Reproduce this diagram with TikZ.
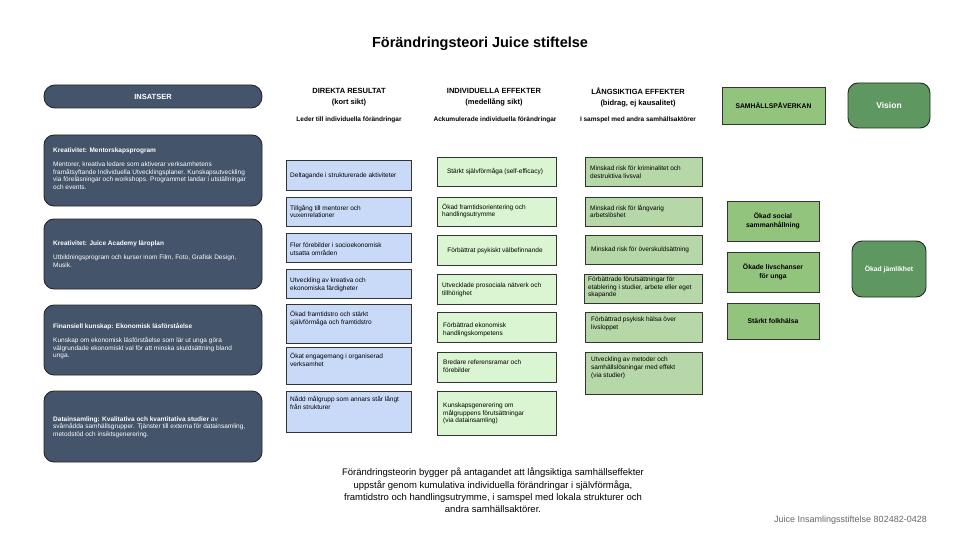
\documentclass[tikz,border=0pt]{standalone}
\usepackage{fontspec}
\setmainfont{Liberation Sans}
\definecolor{slate}{HTML}{44546A}
\definecolor{bluebox}{HTML}{C9DAF8}
\definecolor{lgreen}{HTML}{D9F5D1}
\definecolor{mgreen}{HTML}{B6D7A8}
\definecolor{sgreen}{HTML}{93C47D}
\definecolor{dgreen}{HTML}{5F9760}
\definecolor{edge}{HTML}{333333}
\definecolor{footgray}{HTML}{666666}
\tikzset{
  base/.style={draw=edge, line width=0.9pt, inner sep=0pt},
  slatebox/.style={base, draw=black!85, fill=slate, rounded corners=10pt},
  bluecell/.style={base, fill=bluebox},
  lgcell/.style={base, fill=lgreen},
  mgcell/.style={base, fill=mgreen},
  sgcell/.style={base, fill=sgreen},
  dgcell/.style={base, draw=black!85, fill=dgreen, rounded corners=10pt},
  txt/.style={font=\fontsize{6.5}{7.8}\selectfont, align=left, anchor=west, inner sep=0pt},
  ctxt/.style={font=\fontsize{6.5}{7.8}\selectfont, align=center, anchor=center, inner sep=0pt},
  ltxt/.style={font=\fontsize{6.5}{7.6}\selectfont, align=left, anchor=west, inner sep=0pt, text=white},
  btxt/.style={font=\fontsize{6.8}{8.4}\selectfont\bfseries, align=center, anchor=center, inner sep=0pt},
  head/.style={font=\fontsize{7.5}{11}\selectfont\bfseries, align=center, inner sep=0pt},
  subhead/.style={font=\fontsize{6.5}{8}\selectfont\bfseries, align=center, inner sep=0pt},
}
% #1 name, #2 box style, #3 x1, #4 y1, #5 x2, #6 y2, #7 text style, #8 text position, #9 text
\newcommand\cell[9]{%
  \node[#2, minimum width=#5pt-#3pt, minimum height=#6pt-#4pt] (#1) at ({(#3+#5)/2},{(#4+#6)/2}) {};
  \node[#7] (#1-t) at #8 {#9};
}
\begin{document}
\begin{tikzpicture}[x=1pt,y=-1pt]
\useasboundingbox (0,0) rectangle (960,540);

% title
\node[font=\fontsize{14.5}{17}\selectfont\bfseries, inner sep=0pt] (title) at (480,44) {Förändringsteori Juice stiftelse};

% INSATSER
\node[slatebox, rounded corners=11pt, minimum width=218pt, minimum height=23pt, text=white, font=\fontsize{7.5}{9}\selectfont\bfseries] (insatser) at (153,96.5) {INSATSER};

% left boxes
\cell{in1}{slatebox}{44}{135}{262}{206}{ltxt}{(53,168.5)}{\textbf{Kreativitet: Mentorskapsprogram}\\[7pt]
Mentorer, kreativa ledare som aktiverar verksamhetens\\
framåtsyftande Individuella Utvecklingsplaner. Kunskapsutveckling\\
via föreläsningar och workshops. Programmet landar i utställningar\\
och events.}
\cell{in2}{slatebox}{44}{219}{262}{289}{ltxt}{(53,254)}{\textbf{Kreativitet: Juice Academy läroplan}\\[7pt]
Utbildningsprogram och kurser inom Film, Foto, Grafisk Design,\\
Musik.}
\cell{in3}{slatebox}{44}{305}{262}{375}{ltxt}{(53,341)}{\textbf{Finansiell kunskap: Ekonomisk läsförståelse}\\[7pt]
Kunskap om ekonomisk läsförståelse som lär ut unga göra\\
välgrundade ekonomiskt val för att minska skuldsättning bland\\
unga.}
\cell{in4}{slatebox}{44}{391}{262}{462}{ltxt}{(53,427)}{\textbf{Datainsamling: Kvalitativa och kvantitativa studier} av\\
svårnådda samhällsgrupper. Tjänster till externa för datainsamling,\\
metodstöd och insiktsgenerering.}

% column headers
\node[head] (h2) at (349,97) {DIREKTA RESULTAT\\(kort sikt)};
\node[subhead] (s2) at (349,119.5) {Leder till individuella förändringar};
\node[head] (h3) at (494,97) {INDIVIDUELLA EFFEKTER\\(medellång sikt)};
\node[subhead] (s3) at (495,119.5) {Ackumulerade individuella förändringar};
\node[head] (h4) at (638,97) {LÅNGSIKTIGA EFFEKTER\\(bidrag, ej kausalitet)};
\node[subhead] (s4) at (638,119.5) {I samspel med andra samhällsaktörer};

% column 2
\cell{d1}{bluecell}{286}{160}{411}{190}{txt}{(290,175.5)}{Deltagande i strukturerade aktiviteter}
\cell{d2}{bluecell}{286}{197}{411}{226}{txt}{(290,211.5)}{Tillgång till mentorer och\\vuxenrelationer}
\cell{d3}{bluecell}{286}{233}{411}{262}{txt}{(290,249)}{Fler förebilder i socioekonomisk\\utsatta områden}
\cell{d4}{bluecell}{286}{269}{411}{298}{txt}{(290,284.5)}{Utveckling av kreativa och\\ekonomiska färdigheter}
\cell{d5}{bluecell}{286}{304}{411}{343}{txt}{(290,318.5)}{Ökad framtidstro och stärkt\\självförmåga och framtidstro}
\cell{d6}{bluecell}{286}{347}{411}{384}{txt}{(290,359.5)}{Ökat engagemang i organiserad\\verksamhet}
\cell{d7}{bluecell}{286}{391}{411}{432}{txt}{(290,403)}{Nådd målgrupp som annars står långt\\från strukturer}

% column 3
\cell{i1}{lgcell}{437}{157}{556}{186}{ctxt}{(495,171.5)}{Stärkt självförmåga (self-efficacy)}
\cell{i2}{lgcell}{437}{197}{556}{226}{txt}{(442,211)}{Ökad framtidsorientering och\\handlingsutrymme}
\cell{i3}{lgcell}{437}{235}{556}{265}{ctxt}{(495,251)}{Förbättrat psykiskt välbefinnande}
\cell{i4}{lgcell}{437}{274}{556}{304}{txt}{(442,290)}{Utvecklade prosociala nätverk och\\tillhörighet}
\cell{i5}{lgcell}{437}{312}{556}{342}{txt}{(443,329.5)}{Förbättrad ekonomisk\\handlingskompetens}
\cell{i6}{lgcell}{437}{352}{556}{382}{txt}{(443,366.5)}{Bredare referensramar och\\förebilder}
\cell{i7}{lgcell}{437}{391}{556}{435}{txt}{(443,413.5)}{Kunskapsgenerering om\\målgruppens förutsättningar\\(via datainsamling)}

% column 4
\cell{l1}{mgcell}{585}{157}{702}{186}{txt}{(590,172.5)}{Minskad risk för kriminalitet och\\destruktiva livsval}
\cell{l2}{mgcell}{585}{197}{702}{226}{txt}{(590,211.5)}{Minskad risk för långvarig\\arbetslöshet}
\cell{l3}{mgcell}{585}{235}{702}{264}{txt}{(591,249.5)}{Minskad risk för överskuldsättning}
\cell{l4}{mgcell}{584}{274}{702}{303}{txt,font=\fontsize{6.5}{7.3}\selectfont}{(588,287.5)}{Förbättrade förutsättningar för\\etablering i studier, arbete eller eget\\skapande}
\cell{l5}{mgcell}{585}{312}{702}{342}{txt}{(591,323.5)}{Förbättrad psykisk hälsa över\\livsloppet}
\cell{l6}{mgcell}{585}{352}{702}{394}{txt}{(591,368)}{Utveckling av metoder och\\samhällslösningar med effekt\\(via studier)}

% column 5
\cell{sp}{sgcell}{722}{87}{825}{124}{btxt}{(773.5,105.5)}{SAMHÄLLSPÅVERKAN}
\cell{s1}{sgcell}{727}{201}{819}{241}{btxt}{(773,221)}{Ökad social\\sammanhållning}
\cell{s2b}{sgcell}{727}{252}{819}{292}{btxt}{(773,272)}{Ökade livschanser\\för unga}
\cell{s3b}{sgcell}{727}{303}{819}{339}{btxt}{(773,321)}{Stärkt folkhälsa}

% vision
\cell{vis}{dgcell}{848}{83}{930}{128}{btxt,text=white,font=\fontsize{8.5}{10}\selectfont\bfseries}{(889,105.5)}{Vision}
\cell{jam}{dgcell}{852}{241}{926}{297}{btxt,text=white}{(889,269)}{Ökad jämlikhet}

% bottom text
\node[font=\fontsize{9.5}{12.3}\selectfont, align=center, anchor=north, inner sep=0pt] (summary) at (493,468) {Förändringsteorin bygger på antagandet att långsiktiga samhällseffekter\\
uppstår genom kumulativa individuella förändringar i självförmåga,\\
framtidstro och handlingsutrymme, i samspel med lokala strukturer och\\
andra samhällsaktörer.};

\node[font=\fontsize{9}{11}\selectfont, text=footgray, anchor=east, inner sep=0pt] (footer) at (927,520) {Juice Insamlingsstiftelse 802482-0428};
\end{tikzpicture}
\end{document}
